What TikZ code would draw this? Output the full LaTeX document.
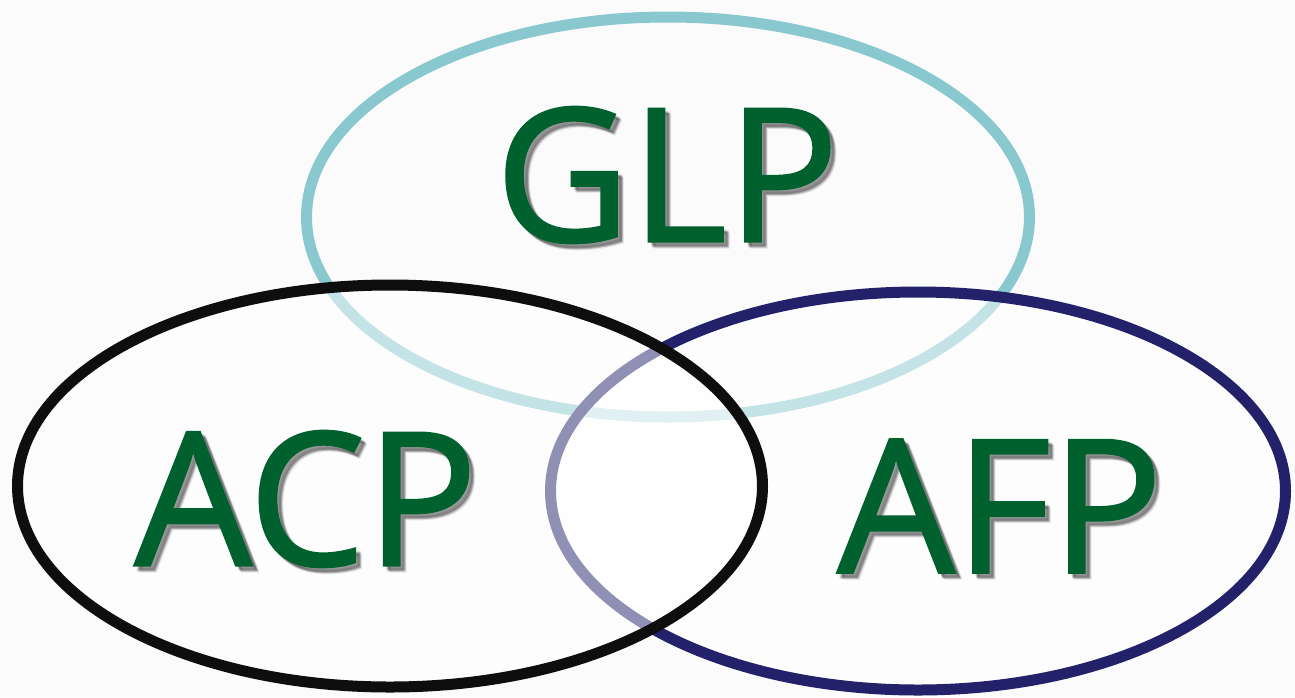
\documentclass[tikz,border=0pt]{standalone}
\usepackage{fontspec}
\setmainfont{Open Sans}
\newfontfamily\labfont{Open Sans}[FakeBold=1.2]
\usetikzlibrary{shapes.geometric}
\definecolor{bgc}{HTML}{FBFBFB}
\definecolor{glpc}{HTML}{8AC8D0}
\definecolor{acpc}{HTML}{0E0E0E}
\definecolor{afpc}{HTML}{22216A}
\definecolor{txtc}{HTML}{00612E}
\tikzset{
  ring/.style={ellipse, draw, line width=11pt, inner sep=0pt},
  veil/.style={fill=white, fill opacity=0.5},
  label/.style={inner sep=0pt, text=txtc, font=\labfont\fontsize{186}{186}\selectfont},
  shade/.style={inner sep=0pt, text=black, text opacity=0.08, font=\labfont\fontsize{186}{186}\selectfont},
}
\newcommand{\shadowtext}[3]{%
  \foreach \dx/\dy in {3/3,4/4,5/5,4/5,5/4,6/6}{
    \node[shade] at ([xshift=\dx pt,yshift=-\dy pt]#1) {#3};
  }
  \node[label] (#2) at (#1) {#3};
}
\begin{document}
\begin{tikzpicture}[x=1pt,y=-1pt]
\fill[bgc] (0,0) rectangle (1295,697);
\useasboundingbox (0,0) rectangle (1295,697);
\coordinate (cglp) at (668,217);
\coordinate (cacp) at (390,486);
\coordinate (cafp) at (918,491);
\node[ring, draw=glpc, minimum width=723pt, minimum height=400pt] (glp) at (cglp) {};
\node[ring, draw=afpc, veil, minimum width=735pt, minimum height=398pt] (afp) at (cafp) {};
\node[ring, draw=acpc, veil, minimum width=745pt, minimum height=402pt] (acp) at (cacp) {};
\coordinate (pglp) at (667,175);
\coordinate (pacp) at (306,499);
\coordinate (pafp) at (1000,506);
\shadowtext{pglp}{tglp}{GLP}
\shadowtext{pacp}{tacp}{ACP}
\shadowtext{pafp}{tafp}{AFP}
\end{tikzpicture}
\end{document}
